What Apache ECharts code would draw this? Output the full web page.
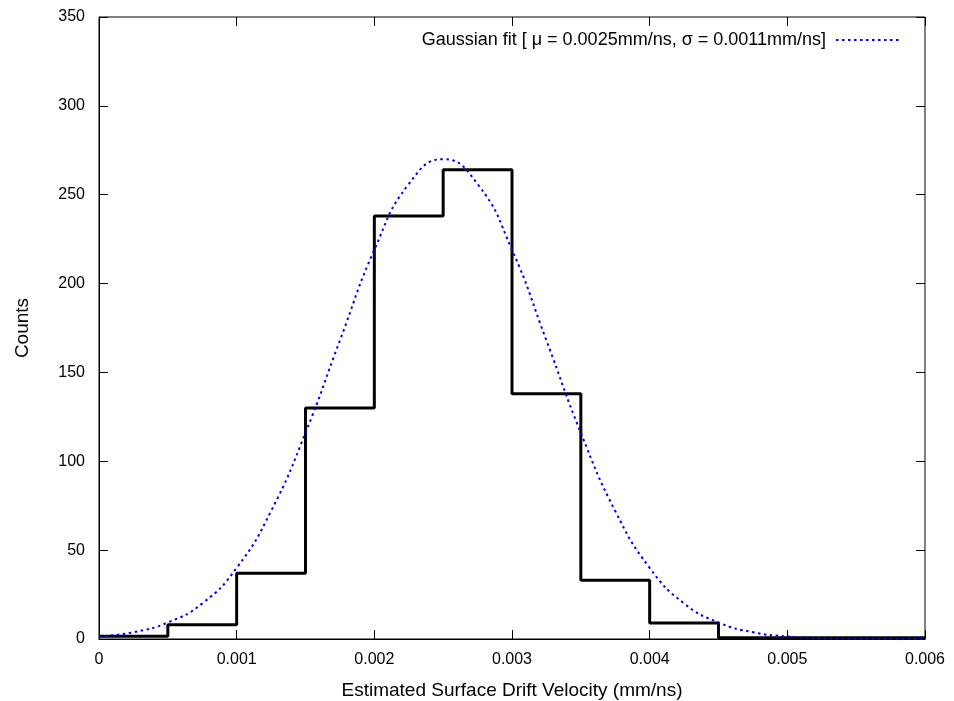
<!DOCTYPE html>
<html>
<head>
<meta charset="utf-8">
<script src="https://cdn.jsdelivr.net/npm/echarts@6/dist/echarts.min.js"></script>
<style>
  html, body { margin: 0; padding: 0; background: #ffffff; }
  #chart { width: 954px; height: 701px; }
</style>
</head>
<body>
<div id="chart"></div>
<script>
// histogram bin left edges (mm/ns) and counts
const binEdges = [0, 0.0005, 0.001, 0.0015, 0.002, 0.0025, 0.003, 0.0035, 0.004, 0.0045, 0.005, 0.0055, 0.006]
const binCounts = [1.5, 8, 37, 130, 238, 264, 138, 33, 9, 0.7, 0.7, 0.7, 0.7]

// gaussian fit curve
const fitX = [0, 0.00025, 0.0005, 0.00075, 0.001, 0.00125, 0.0015, 0.00175, 0.002, 0.00225, 0.0025,
  0.00275, 0.003, 0.00325, 0.0035, 0.00375, 0.004, 0.00425, 0.0045, 0.00475, 0.005, 0.00525, 0.0055, 0.006]
const fitY = [1.4, 3.8, 9.3, 20, 40, 72, 116, 168, 219, 256, 270,
  256, 219, 168, 116, 72, 40, 20, 9.3, 3.8, 1.4, 0.5, 0.15, 0]

const xTicks = ['0', '0.001', '0.002', '0.003', '0.004', '0.005', '0.006']
const fitName = 'Gaussian fit [ \u03bc = 0.0025mm/ns, \u03c3 = 0.0011mm/ns]'

const font = 'Liberation Sans, Arial, sans-serif'
const myChart = echarts.init(document.getElementById('chart'))

function ticks() {
  return { show: true, inside: true, length: 9, lineStyle: { color: '#000', width: 1 } }
}

myChart.setOption({
  animation: false,
  grid: {
    left: 99,
    right: 29,
    top: 17,
    bottom: 62,
    outerBoundsMode: 'none',
    containLabel: false,
    show: true,
    borderColor: '#000',
    borderWidth: 1
  },
  legend: {
    right: 52,
    top: 31,
    padding: 0,
    align: 'right',
    itemWidth: 65,
    itemHeight: 14,
    itemStyle: { opacity: 0 },
    textStyle: { fontFamily: font, fontSize: 18, color: '#000', padding: [0, 5, 0, 0] },
    data: [fitName]
  },
  xAxis: [{
    type: 'value',
    min: 0,
    max: 0.006,
    interval: 0.001,
    name: 'Estimated Surface Drift Velocity (mm/ns)',
    nameLocation: 'middle',
    nameGap: 42,
    nameTextStyle: { fontFamily: font, fontSize: 19, color: '#000' },
    axisLine: { show: true, onZero: false, lineStyle: { color: '#000' } },
    axisTick: ticks(),
    splitLine: { show: false },
    axisLabel: {
      fontFamily: font,
      fontSize: 16,
      color: '#000',
      margin: 13,
      formatter: function(v) { return xTicks[Math.round(v / 0.001)] }
    }
  }, {
    type: 'value',
    position: 'top',
    min: 0,
    max: 0.006,
    interval: 0.001,
    axisLine: { show: false, onZero: false },
    axisTick: ticks(),
    axisLabel: { show: false },
    splitLine: { show: false }
  }],
  yAxis: [{
    type: 'value',
    min: 0,
    max: 350,
    interval: 50,
    name: 'Counts',
    nameLocation: 'middle',
    nameGap: 67,
    nameTextStyle: { fontFamily: font, fontSize: 19, color: '#000' },
    axisLine: { show: true, onZero: false, lineStyle: { color: '#000' } },
    axisTick: ticks(),
    splitLine: { show: false },
    axisLabel: { fontFamily: font, fontSize: 16, color: '#000', margin: 14 }
  }, {
    type: 'value',
    position: 'right',
    min: 0,
    max: 350,
    interval: 50,
    axisLine: { show: false, onZero: false },
    axisTick: ticks(),
    axisLabel: { show: false },
    splitLine: { show: false }
  }],
  series: [{
    name: 'histogram',
    type: 'line',
    step: 'end',
    symbol: 'none',
    lineStyle: { color: '#000', width: 3 },
    data: binEdges.map((x, i) => [x, binCounts[i]]),
    z: 3
  }, {
    name: fitName,
    type: 'line',
    smooth: true,
    symbol: 'none',
    itemStyle: { color: '#0000ee' },
    lineStyle: { color: '#0000ee', width: 2, type: [2.5, 3.5] },
    data: fitX.map((x, i) => [x, fitY[i]]),
    z: 4
  }]
})
window.addEventListener('resize', function() {
  myChart.resize()
})
</script>
</body>
</html>
